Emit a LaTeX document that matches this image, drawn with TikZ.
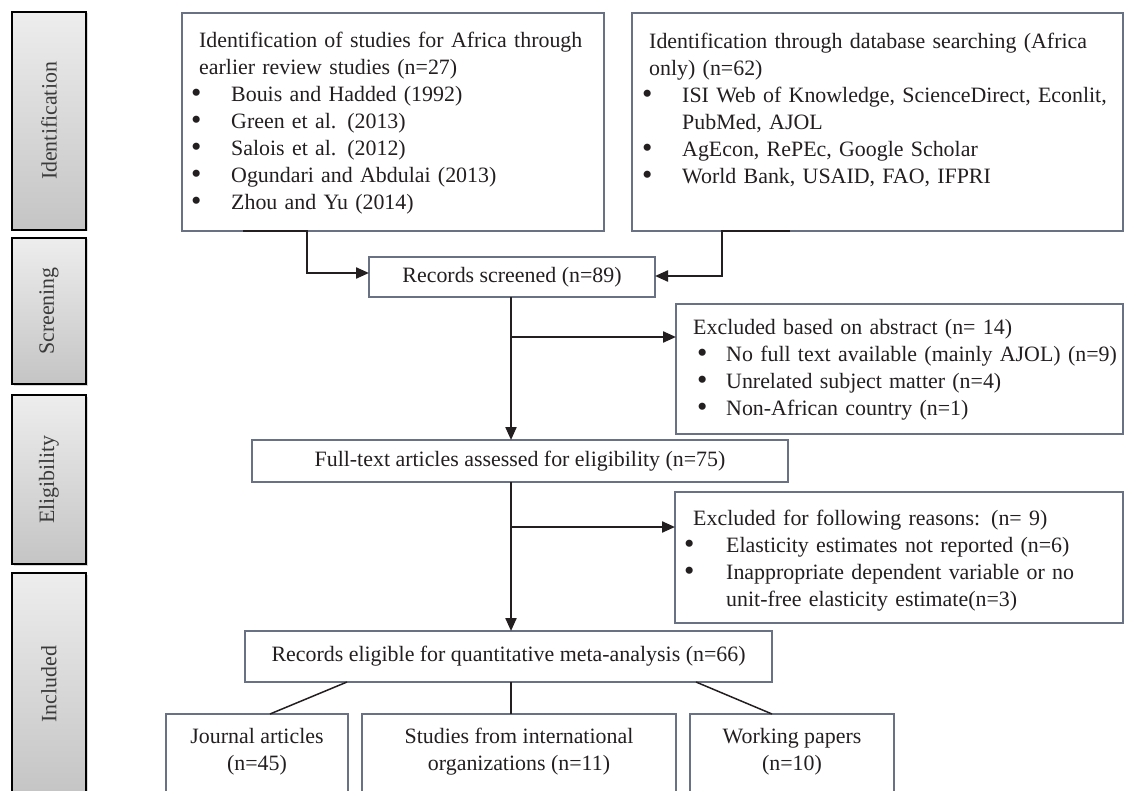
\documentclass[tikz,border=0pt]{standalone}
\usepackage{fontspec}
\setmainfont{Liberation Serif}
\usepackage{graphicx}
\usetikzlibrary{arrows.meta,shadows,calc}
\definecolor{boxc}{RGB}{105,114,132}
\definecolor{ink}{RGB}{35,31,32}
\definecolor{stagetxt}{RGB}{58,58,58}
\newcommand{\bitem}[1]{\makebox[#1][l]{\raisebox{-0.06em}{\scalebox{1.35}{\textbullet}}}}
\begin{document}
\begin{tikzpicture}[x=1pt,y=-1pt,
  every node/.style={font=\fontsize{21.9}{27}\selectfont, text=ink},
  stagebar/.style={draw=black, line width=1.4pt, top color=gray!14, bottom color=gray!46,
    minimum width=74pt, inner sep=0pt, outer sep=0pt, text=stagetxt,
    drop shadow={shadow xshift=1.5pt, shadow yshift=-1.5pt, opacity=0.3}},
  frame/.style={draw=boxc, line width=1.1pt, inner sep=0pt, outer sep=0pt, fill=white},
  listtext/.style={anchor=north west, inner sep=0pt, align=left, text width=600pt},
  flow/.style={draw=ink, line width=2.2pt, -{Triangle[length=13pt,width=11pt]}},
  link/.style={draw=ink, line width=1.5pt},
]
\useasboundingbox (0,0) rectangle (1126,791);

% stage bars
\node[stagebar, minimum height=218pt] (sId) at (49,121) {\rotatebox{90}{Identification}};
\node[stagebar, minimum height=146pt] (sSc) at (49,311) {\rotatebox{90}{Screening}};
\node[stagebar, minimum height=169pt] (sEl) at (49,479.5) {\rotatebox{90}{Eligibility}};
\node[stagebar, minimum height=222pt] (sIn) at (49,684) {\rotatebox{90}{Included}};

% top boxes
\node[frame, minimum width=422pt, minimum height=218pt] (idL) at (393,122) {};
\node[listtext] (idLt) at (191,28.1) {\hspace*{8pt}\strut Identification of studies for Africa through\\
\hspace*{8pt}earlier review studies (n=27)\\
\bitem{40pt}Bouis and Hadded (1992)\\
\bitem{40pt}Green et al. (2013)\\
\bitem{40pt}Salois et al. (2012)\\
\bitem{40pt}Ogundari and Abdulai (2013)\\
\bitem{40pt}Zhou and Yu (2014)};

\node[frame, minimum width=491pt, minimum height=218pt] (idR) at (877.5,122) {};
\node[listtext] (idRt) at (642,29.1) {\hspace*{7pt}\strut Identification through database searching (Africa\\
\hspace*{7pt}only) (n=62)\\
\bitem{40pt}ISI Web of Knowledge, ScienceDirect, Econlit,\\
\hspace*{40pt}PubMed, AJOL\\
\bitem{40pt}AgEcon, RePEc, Google Scholar\\
\bitem{40pt}World Bank, USAID, FAO, IFPRI};

% screening
\node[frame, minimum width=286pt, minimum height=40pt] (rs) at (512,277) {Records screened (n=89)};
\node[frame, minimum width=447pt, minimum height=130pt] (ex1) at (899.5,369) {};
\node[listtext] (ex1t) at (693,315.1) {\strut Excluded based on abstract (n= 14)\\
\hspace*{4pt}\bitem{29pt}No full text available (mainly AJOL) (n=9)\\
\hspace*{4pt}\bitem{29pt}Unrelated subject matter (n=4)\\
\hspace*{4pt}\bitem{29pt}Non-African country (n=1)};

% eligibility
\node[frame, minimum width=536pt, minimum height=42pt] (ft) at (520,461) {Full-text articles assessed for eligibility (n=75)};
\node[frame, minimum width=448pt, minimum height=131pt] (ex2) at (899,557.5) {};
\node[listtext] (ex2t) at (684,506.1) {\hspace*{9pt}\strut Excluded for following reasons: (n= 9)\\
\bitem{42pt}Elasticity estimates not reported (n=6)\\
\bitem{42pt}Inappropriate dependent variable or no\\
\hspace*{42pt}unit-free elasticity estimate(n=3)};

% included
\node[frame, minimum width=527pt, minimum height=51pt] (re) at (508.5,656.5) {Records eligible for quantitative meta-analysis (n=66)};
\node[frame, minimum width=182pt, minimum height=90pt, anchor=north] (ja) at (257,714) {};
\node[frame, minimum width=314pt, minimum height=90pt, anchor=north] (so) at (519,714) {};
\node[frame, minimum width=204pt, minimum height=90pt, anchor=north] (wp) at (792,714) {};
\node[anchor=north, inner sep=0pt, align=center] (jat) at (257,724.1) {\strut Journal articles\\(n=45)};
\node[anchor=north, inner sep=0pt, align=center] (sot) at (519,724.1) {\strut Studies from international\\organizations (n=11)};
\node[anchor=north, inner sep=0pt, align=center] (wpt) at (792,724.1) {\strut Working papers\\(n=10)};

% connectors
\coordinate (l1) at (243,231);
\coordinate (rsL) at (369,273);
\draw[flow] (l1) -| (307,273) -- (rsL);
\coordinate (r1) at (790,231);
\coordinate (rsR) at (655,276);
\draw[flow] (r1) -| (722,276) -- (rsR);

\coordinate (v1) at (511,297);
\draw[flow] (v1) -- (v1 |- ft.north);
\coordinate (b1) at (511,337);
\draw[flow] (b1) -- (b1 -| ex1.west);
\coordinate (v2) at (511,482);
\draw[flow] (v2) -- (v2 |- re.north);
\coordinate (b2) at (511,527);
\draw[flow] (b2) -- (b2 -| ex2.west);

\draw[link] ($(re.south west)+(102,0)$) -- ($(ja.north)+(13,0)$);
\draw[link] ($(re.south)+(2.5,0)$) -- ($(so.north)+(-8,0)$);
\draw[link] ($(re.south east)+(-76,0)$) -- ($(wp.north)+(-20,0)$);
\end{tikzpicture}
\end{document}
